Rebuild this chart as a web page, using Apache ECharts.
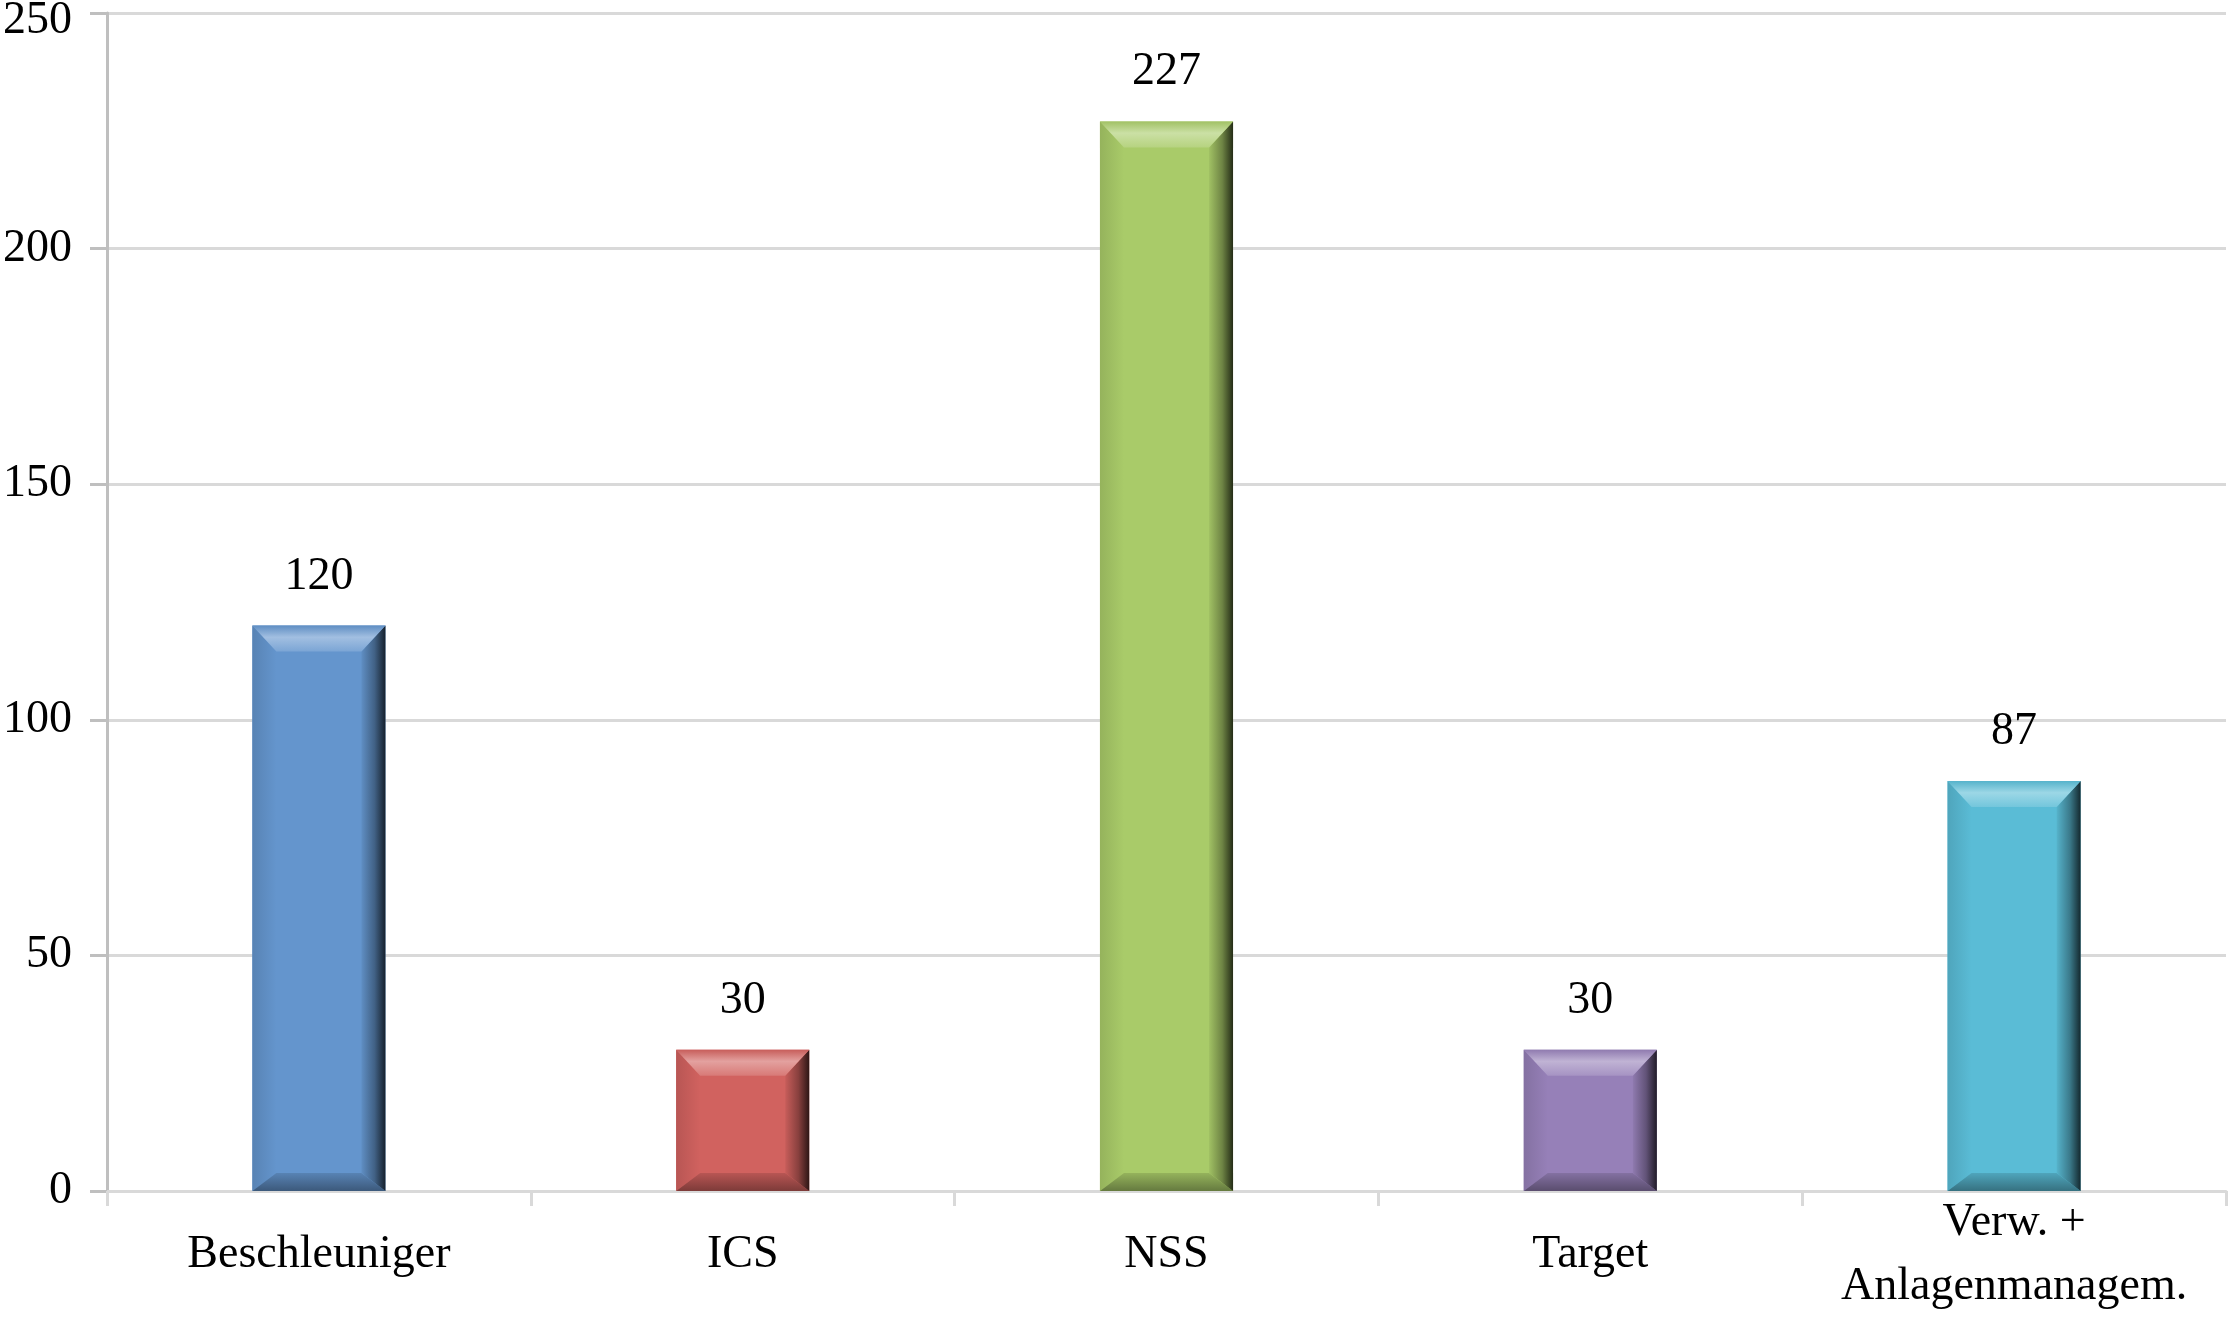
<!DOCTYPE html>
<html>
<head>
<meta charset="utf-8">
<script src="https://cdn.jsdelivr.net/npm/echarts@6/dist/echarts.min.js"></script>
<style>
  html, body { margin: 0; padding: 0; background: #fff; }
  #chart { width: 2229px; height: 1322px; }
</style>
</head>
<body>
<div id="chart"></div>
<script>
var categories = ['Beschleuniger', 'ICS', 'NSS', 'Target', 'Verw. +\nAnlagenmanagem.'];
var values = [120, 30, 227, 30, 87];
var faceColors = ['#6495CD', '#D1625F', '#A9CB69', '#9680B8', '#5ABCD6'];
var yTicks = { min: 0, max: 250, interval: 50 };

var FONT = '"Liberation Serif", "Times New Roman", serif';

// hellere / dunklere Variante einer Farbe
function shade(hex, f) {
  var n = parseInt(hex.slice(1), 16);
  var r = (n >> 16) & 255, g = (n >> 8) & 255, b = n & 255;
  function c(v) {
    v = f >= 0 ? v + (255 - v) * f : v * (1 + f);
    return Math.max(0, Math.min(255, Math.round(v)));
  }
  return 'rgb(' + c(r) + ',' + c(g) + ',' + c(b) + ')';
}

// Balken mit Abschrägung (wie Excel "Relief")
function renderBevelBar(params, api) {
  var idx = api.value(0);
  var val = api.value(1);
  var top = api.coord([idx, val]);
  var base = api.coord([idx, 0]);
  var w = api.size([1, 0])[0] * 0.314;
  var x0 = top[0] - w / 2, x1 = top[0] + w / 2;
  var y0 = top[1], y1 = base[1];
  var bt = 26, bs = 24, bb = 18;
  var col = faceColors[idx];
  return {
    type: 'group',
    children: [
      { type: 'rect', shape: { x: x0, y: y0, width: w, height: y1 - y0 }, style: { fill: col } },
      { type: 'polygon', shape: { points: [[x0, y0], [x0 + bs, y0 + bt], [x0 + bs, y1 - bb], [x0, y1]] },
        style: { fill: new echarts.graphic.LinearGradient(0, 0, 1, 0, [
          { offset: 0, color: shade(col, -0.12) }, { offset: 1, color: col }]) } },
      { type: 'polygon', shape: { points: [[x0, y1], [x0 + bs, y1 - bb], [x1 - bs, y1 - bb], [x1, y1]] },
        style: { fill: new echarts.graphic.LinearGradient(0, 0, 0, 1, [
          { offset: 0, color: shade(col, -0.12) }, { offset: 1, color: shade(col, -0.4) }]) } },
      { type: 'polygon', shape: { points: [[x1, y0], [x1, y1], [x1 - bs, y1 - bb], [x1 - bs, y0 + bt]] },
        style: { fill: new echarts.graphic.LinearGradient(0, 0, 1, 0, [
          { offset: 0, color: shade(col, -0.05) }, { offset: 0.55, color: shade(col, -0.35) },
          { offset: 1, color: shade(col, -0.78) }]) } },
      { type: 'polygon', shape: { points: [[x0, y0], [x1, y0], [x1 - bs, y0 + bt], [x0 + bs, y0 + bt]] },
        style: { fill: new echarts.graphic.LinearGradient(0, 0, 0, 1, [
          { offset: 0, color: shade(col, -0.05) }, { offset: 0.45, color: shade(col, 0.4) },
          { offset: 1, color: shade(col, 0.15) }]) } },
      { type: 'text', style: { text: String(val), x: top[0], y: y0 - 26, align: 'center',
        verticalAlign: 'bottom', fill: '#000', font: '46px ' + FONT } }
    ]
  };
}

var myChart = echarts.init(document.getElementById('chart'));
var option = {
  backgroundColor: '#fff',
  animation: false,
  grid: { left: 107, right: 3, top: 13, bottom: 131, outerBoundsMode: 'none' },
  xAxis: {
    type: 'category',
    data: categories,
    axisLine: { lineStyle: { color: '#D9D9D9', width: 3 } },
    axisTick: { show: true, length: 15, lineStyle: { color: '#D9D9D9', width: 3 } },
    axisLabel: {
      interval: 0, color: '#000', fontFamily: FONT, fontSize: 46,
      margin: 64, verticalAlign: 'middle', lineHeight: 64
    }
  },
  yAxis: {
    type: 'value',
    min: yTicks.min,
    max: yTicks.max,
    interval: yTicks.interval,
    axisLine: { show: true, lineStyle: { color: '#BFBFBF', width: 3 } },
    axisTick: { show: true, length: 17, lineStyle: { color: '#BFBFBF', width: 3 } },
    splitLine: { lineStyle: { color: '#D9D9D9', width: 3 } },
    axisLabel: {
      color: '#000', fontFamily: FONT, fontSize: 46, margin: 35,
      // oberstes Label etwas nach unten, damit es nicht abgeschnitten wird
      formatter: function (v) { return v === yTicks.max ? '{t|' + v + '}' : String(v); },
      rich: { t: { fontFamily: FONT, fontSize: 46, color: '#000', padding: [16, 0, 0, 0] } }
    }
  },
  series: [{
    type: 'custom',
    renderItem: renderBevelBar,
    encode: { x: 0, y: 1 },
    clip: false,
    data: values.map(function (v, i) { return [i, v]; })
  }]
};
myChart.setOption(option);
</script>
</body>
</html>
